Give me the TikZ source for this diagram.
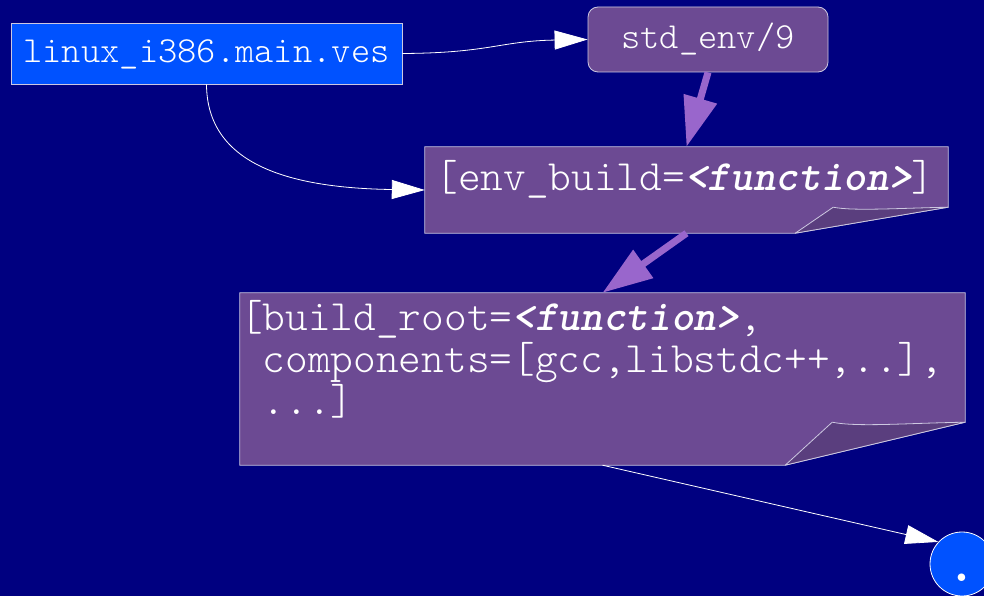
\documentclass[tikz,border=0pt]{standalone}
\usepackage{fontspec}
\usetikzlibrary{arrows.meta,calc}

\newfontfamily\lightmono{lmmonolt10-regular.otf}

\definecolor{bgnavy}{RGB}{0,0,128}
\definecolor{fileblue}{RGB}{0,82,255}
\definecolor{boxpurple}{RGB}{108,74,147}
\definecolor{flappurple}{RGB}{90,62,126}
\definecolor{arrowpurple}{RGB}{153,102,204}
\definecolor{edgegrey}{RGB}{205,200,225}

\newcommand{\smallmono}{\lightmono\fontsize{36.7}{40}\selectfont}
\newcommand{\largemono}{\lightmono\fontsize{43.2}{42}\selectfont}
\newcommand{\dotmono}{\ttfamily\bfseries\fontsize{55}{60}\selectfont}
\newcommand{\fn}[1]{{\ttfamily\bfseries\itshape #1}}

\tikzset{
  filebox/.style={draw=edgegrey, line width=0.8pt, fill=fileblue, text=white,
    font=\smallmono, inner sep=0pt, text height=26pt, text depth=7pt},
  envbox/.style={draw=edgegrey, line width=0.8pt, fill=boxpurple, text=white,
    font=\smallmono, inner sep=0pt, rounded corners=10pt, text height=26pt, text depth=8pt},
  notearea/.style={inner sep=0pt, draw=none},
  notebody/.style={fill=boxpurple, draw=edgegrey, line width=0.8pt},
  noteflap/.style={fill=flappurple, draw=edgegrey, line width=0.8pt, line join=round},
  notetext/.style={text=white, font=\largemono, inner sep=0pt},
  thinarrow/.style={draw=white, line width=0.8pt, -{Triangle[length=33pt,width=19pt]}},
  thickarrow/.style={draw=arrowpurple, line width=7pt, -{Triangle[length=50pt,width=33pt]}},
  endnode/.style={circle, draw=white, line width=0.8pt, fill=fileblue, text=white,
    font=\dotmono, inner sep=0pt, minimum size=64pt, text height=40pt, text depth=5pt},
}

\begin{document}
\begin{tikzpicture}[x=1pt,y=-1pt]
  \fill[bgnavy] (0,0) rectangle (984,596);
  \useasboundingbox (0,0) rectangle (984,596);

  % source file and environment
  \node[filebox, minimum width=391pt, minimum height=61pt] (A) at (206.5,53.5) {linux\_i386.main.ves};
  \node[envbox, minimum width=240pt, minimum height=65pt] (B) at (708,39.5) {std\_env/9};

  % first note with folded corner
  \node[notearea, minimum width=523pt, minimum height=86pt] (C) at (686.5,190) {};
  \path[notebody] (C.north west) -- (C.north east) -- ($(C.south east)+(0,-26)$)
    -- ($(C.south east)+(-153,0)$) -- (C.south west) -- cycle;
  \path[noteflap] ($(C.south east)+(-153,0)$) -- ($(C.south east)+(-115,-26)$)
    .. controls +(20,4) and +(-50,1) .. ($(C.south east)+(0,-26)$) -- cycle;
  \node[notetext] (Ctext) at (685,179) {[env\_build=\fn{<function>}]};

  % second note with folded corner
  \node[notearea, minimum width=725pt, minimum height=172pt] (D) at (602.5,379) {};
  \path[notebody] (D.north west) -- (D.north east) -- ($(D.south east)+(0,-43)$)
    -- ($(D.south east)+(-180,0)$) -- (D.south west) -- cycle;
  \path[noteflap] ($(D.south east)+(-180,0)$) -- ($(D.south east)+(-133,-43)$)
    .. controls +(25,5) and +(-60,1) .. ($(D.south east)+(0,-43)$) -- cycle;
  \node[notetext, anchor=north west, align=left] (Dtext) at (240,300)
    {[build\_root=\fn{<function>},\\
     \ components=[gcc,libstdc++,..],\\
     \ ...]};

  % result
  \node[endnode] (E) at (962,564) {.};

  % connectors
  \draw[thinarrow] (A.east) .. controls (490,53) and (500,41) .. (B.west);
  \draw[thinarrow] (A.south) .. controls (207,165) and (290,188) .. (C.west);
  \draw[thickarrow] (B.south) -- (C.north);
  \draw[thickarrow] (C.south) -- (D.north);
  \draw[thinarrow] (D.south) -- (E.137);
\end{tikzpicture}
\end{document}
